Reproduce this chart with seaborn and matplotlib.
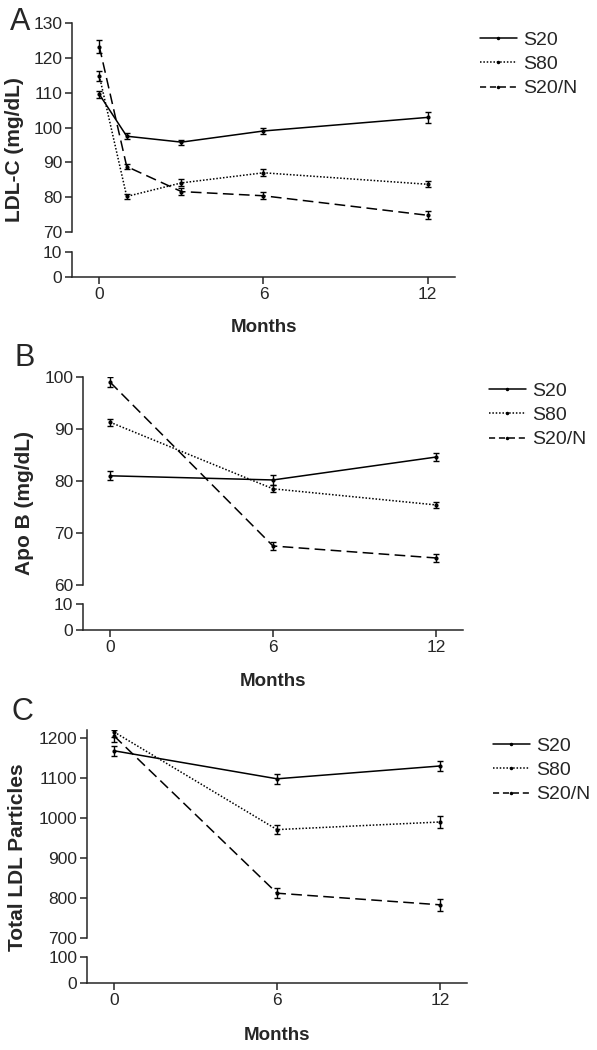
import numpy as np
import pandas as pd
import seaborn as sns
import matplotlib.pyplot as plt
from matplotlib.lines import Line2D

# Data
groups = ['S20', 'S80', 'S20/N']

months_a = [0, 1, 3, 6, 12]
ldl_s20 = [109.5, 97.5, 95.8, 99.0, 102.9]
ldl_s80 = [114.8, 80.2, 84.1, 87.0, 83.7]
ldl_s20n = [123.2, 88.8, 81.6, 80.4, 74.8]
ldl_err_s20 = [1.0, 0.8, 0.7, 1.0, 1.5]
ldl_err_s80 = [1.5, 0.8, 1.0, 1.0, 0.8]
ldl_err_s20n = [1.8, 0.8, 1.0, 1.0, 1.2]

months_bc = [0, 6, 12]
apob_s20 = [81.0, 80.2, 84.6]
apob_s80 = [91.3, 78.5, 75.4]
apob_s20n = [99.0, 67.5, 65.2]
apob_err_s20 = [0.9, 1.0, 0.8]
apob_err_s80 = [0.7, 0.7, 0.6]
apob_err_s20n = [1.0, 0.7, 0.8]

part_s20 = [1168, 1098, 1130]
part_s80 = [1215, 971, 990]
part_s20n = [1205, 812, 783]
part_err_s20 = [12, 12, 12]
part_err_s80 = [12, 12, 14]
part_err_s20n = [15, 12, 15]

sns.set_style("ticks")
plt.rcParams['font.family'] = ['Liberation Sans', 'DejaVu Sans']

dash_map = {'S20': '', 'S80': (1, 1.2), 'S20/N': (7, 3.5)}
ls_map = {'S20': '-', 'S80': (0, (1, 1.2)), 'S20/N': (0, (4, 2.5))}

fig = plt.figure(figsize=(5.97, 10.5), dpi=100)
W, H = 597.0, 1050.0


def px_axes(left, right, top, bottom):
    return fig.add_axes([left / W, 1 - bottom / H, (right - left) / W, (bottom - top) / H])


def panel(letter, months, vals, errs, ylim, yticks, lowlim, lowticks, ylabel,
          box, lowbox, lab_xy, letter_xy, months_y, leg_xy):
    rows = []
    for g, v in zip(groups, vals):
        for m, y in zip(months, v):
            rows.append({'Months': m, 'value': y, 'group': g})
    df = pd.DataFrame(rows)

    ax = px_axes(*box)
    axl = px_axes(*lowbox)
    sns.lineplot(data=df, x='Months', y='value', hue='group', style='group',
                 palette=['black'] * 3, dashes=dash_map, markers=False,
                 linewidth=1.1, legend=False, ax=ax)
    for g, v, e in zip(groups, vals, errs):
        ax.errorbar(months, v, yerr=e, fmt='none', ecolor='black',
                    elinewidth=1.0, capsize=2.5, capthick=1.0)
        ax.plot(months, v, 'o', color='black', markersize=2)

    for a in (ax, axl):
        a.set_xlim(-1, 13)
        a.spines['top'].set_visible(False)
        a.spines['right'].set_visible(False)
        a.spines['left'].set_linewidth(1.1)
        a.spines['bottom'].set_linewidth(1.1)
        a.tick_params(direction='out', length=5, width=1.1, labelsize=12.5, pad=2)
        a.set_xlabel('')
        a.set_ylabel('')
    ax.set_ylim(*ylim)
    ax.set_yticks(yticks)
    ax.spines['bottom'].set_visible(False)
    ax.set_xticks([])
    axl.set_ylim(*lowlim)
    axl.set_yticks(lowticks)
    axl.set_xticks([0, 6, 12])

    fig.text(lab_xy[0] / W, 1 - lab_xy[1] / H, ylabel, rotation=90, ha='center',
             va='center', fontsize=15, fontweight='bold')
    fig.text(letter_xy[0] / W, 1 - letter_xy[1] / H, letter, ha='center',
             va='center', fontsize=22)
    fig.text((box[0] + box[1]) / 2 / W, 1 - months_y / H, 'Months', ha='center',
             va='center', fontsize=13.5, fontweight='bold')

    handles = [Line2D([], [], color='black', lw=1.1, ls=ls_map[g], marker='o',
                      markersize=1.5) for g in groups]
    fig.legend(handles, groups, loc='upper left',
               bbox_to_anchor=(leg_xy[0] / W, 1 - leg_xy[1] / H),
               frameon=False, fontsize=14, handlelength=1.9, handletextpad=0.3,
               labelspacing=0.35, borderaxespad=0, borderpad=0)


panel('A', months_a,
      [ldl_s20, ldl_s80, ldl_s20n], [ldl_err_s20, ldl_err_s80, ldl_err_s20n],
      (70, 130), [70, 80, 90, 100, 110, 120, 130], (0, 10), [0, 10],
      'LDL-C (mg/dL)',
      (72, 455, 23, 232), (72, 455, 252, 277),
      (15, 150), (20, 22), 327, (480, 31))

panel('B', months_bc,
      [apob_s20, apob_s80, apob_s20n], [apob_err_s20, apob_err_s80, apob_err_s20n],
      (60, 100), [60, 70, 80, 90, 100], (0, 10), [0, 10],
      'Apo B (mg/dL)',
      (83, 463, 377, 585), (83, 463, 604, 630),
      (25, 503), (25, 358), 682, (489, 382))

panel('C', months_bc,
      [part_s20, part_s80, part_s20n], [part_err_s20, part_err_s80, part_err_s20n],
      (700, 1220), [700, 800, 900, 1000, 1100, 1200], (0, 100), [0, 100],
      'Total LDL Particles',
      (87, 467, 730, 938), (87, 467, 957, 983),
      (18, 857), (22, 712), 1035, (493, 737))

fig.savefig('out.png', dpi=100)
